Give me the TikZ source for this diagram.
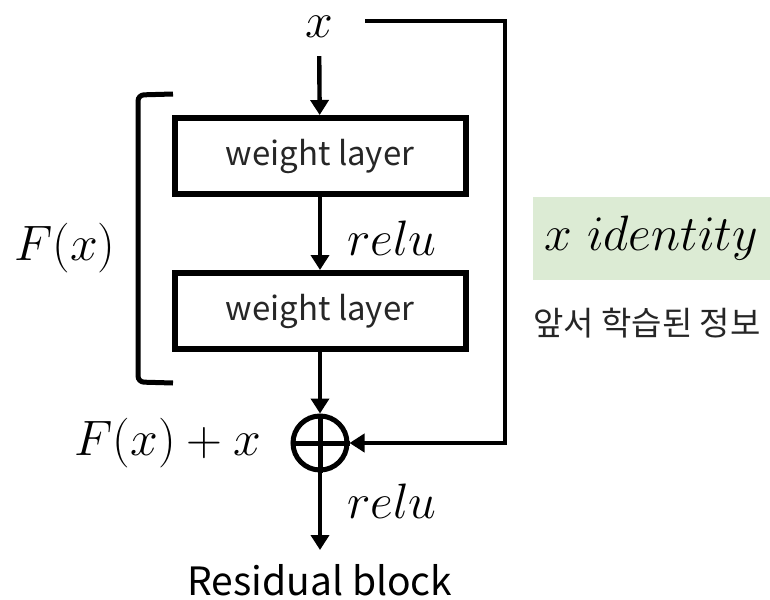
\documentclass[tikz,border=0pt]{standalone}
\usepackage{fontspec}
\usepackage{amsmath}
\usepackage{tikz}
\usetikzlibrary{arrows.meta, positioning, calc}
\newfontfamily\krfont{Noto Sans CJK KR}
\definecolor{mydark}{RGB}{38,38,38}
\definecolor{idgreen}{RGB}{220,235,212}
\tikzset{
  layer/.style={rectangle, draw=black, line width=3pt,
    minimum width=145.5pt, minimum height=38pt,
    font=\krfont\fontsize{16.5}{18}\selectfont, text=mydark},
  addnode/.style={circle, draw=black, line width=2.5pt,
    minimum size=27pt, inner sep=0pt},
  arrow/.style={-{Triangle[width=9pt,length=7.5pt]}, line width=2.2pt},
  line/.style={line width=2.4pt},
  mathlbl/.style={font=\fontsize{24}{28}\selectfont, inner sep=0pt},
  sanslbl/.style={font=\krfont\fontsize{19.5}{22}\selectfont, text=black}
}
\begin{document}
\begin{tikzpicture}[x=0.5pt, y=-0.5pt]
  \useasboundingbox (0,0) rectangle (770,599);

  % Main path
  \node[mathlbl] (xin) at (319,27) {$x$};
  \node[layer] (wl1) at (320,156) {weight layer};
  \node[layer] (wl2) at (320,311) {weight layer};
  \node[addnode] (add) at (320,443) {};
  \draw[line width=2.5pt] (add.north) -- (add.south) (add.west) -- (add.east);
  \coordinate (out) at (320,550);
  \node[sanslbl] (res) at (320,580) {Residual block};

  \draw[arrow, shorten <=9pt] (xin) -- (wl1);
  \draw[arrow] (wl1) -- (wl2);
  \draw[arrow] (wl2) -- (add);
  \draw[arrow] (add) -- (out);

  % Labels
  \node[mathlbl] (relu1) at (392,238) {$relu$};
  \node[mathlbl] (relu2) at (392,501) {$relu$};
  \node[mathlbl] (fxx) at (168,443) {$F(x)+x$};
  \node[mathlbl] (fx) at (65,248) {$F(x)$};

  % Bracket
  \draw[line width=2.5pt, rounded corners=3pt] (173,94) -- (138,95) -- (138,382) -- (173,383);

  % Identity shortcut
  \coordinate (skip) at (365,21);
  \coordinate (corner) at (505,21);
  \draw[arrow] (skip) -- (corner) |- (add);

  % Side note
  \node[fill=idgreen, minimum width=118.5pt, minimum height=41.5pt, mathlbl] (ident) at (651.5,238.5) {$x\ identity$};
  \node[font=\krfont\fontsize{16.5}{19}\selectfont, text=mydark] (prior) at (647,323) {앞서 학습된 정보};
\end{tikzpicture}
\end{document}
